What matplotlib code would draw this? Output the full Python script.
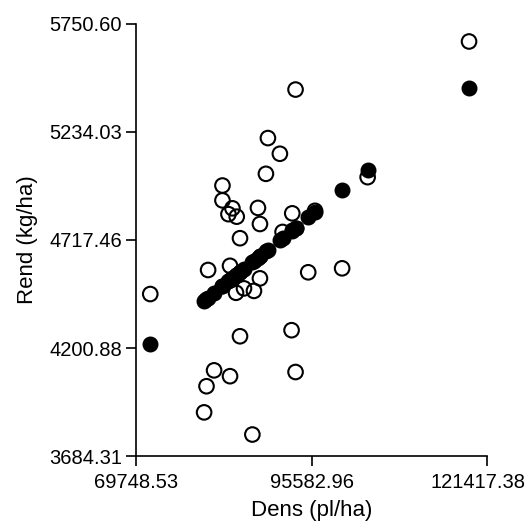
import matplotlib
matplotlib.use("Agg")
import matplotlib.pyplot as plt
import matplotlib.transforms as mtransforms

plt.rcParams['font.family'] = ['Liberation Sans', 'DejaVu Sans']

# Density (pl/ha) of each observation
dens = [118775, 93234, 89168, 90930, 88874, 103847, 82475, 82475, 83943, 83356,
        84574, 87700, 87994, 92750, 85058, 91326, 80361, 83590, 87994, 85646,
        84471, 87113, 95099, 100089, 71848, 85058, 92647, 81242, 83590, 80126,
        93234, 79774, 86878, 96100]
# Observed yield (kg/ha)
rend_obs = [5667, 5437, 5205, 5130, 5034, 5018, 4978, 4907, 4869, 4841,
            4829, 4871, 4794, 4845, 4726, 4756, 4574, 4594, 4534, 4486,
            4465, 4474, 4563, 4582, 4459, 4257, 4286, 4094, 4066, 4018,
            4086, 3893, 3787, 4857]
# Fitted yield (kg/ha)
rend_fit = [5444, 4777, 4671, 4717, 4663, 5054, 4496, 4496, 4535, 4519,
            4551, 4633, 4640, 4764, 4564, 4727, 4441, 4525, 4640, 4579,
            4548, 4617, 4826, 4956, 4219, 4564, 4762, 4464, 4525, 4435,
            4777, 4426, 4611, 4852]

xticks = [69748.53, 95582.96, 121417.38]
yticks = [3684.31, 4200.88, 4717.46, 5234.03, 5750.60]
xtick_labels = ["69748.53", "95582.96", "121417.38"]
ytick_labels = ["3684.31", "4200.88", "4717.46", "5234.03", "5750.60"]

fig = plt.figure(figsize=(5.3, 5.3), dpi=100)
ax = fig.add_axes([136/530, 1 - 456/530, (487 - 136)/530, (456 - 24)/530])

ax.scatter(dens, rend_obs, s=110, facecolors='none', edgecolors='black',
           linewidths=1.5, clip_on=False, zorder=2)
ax.scatter(dens, rend_fit, s=110, facecolors='black', edgecolors='black',
           linewidths=1.0, clip_on=False, zorder=3)

ax.set_xlim(xticks[0], xticks[-1])
ax.set_ylim(yticks[0], yticks[-1])
ax.set_xticks(xticks)
ax.set_xticklabels(xtick_labels)
ax.set_yticks(yticks)
ax.set_yticklabels(ytick_labels)

for s in ['top', 'right']:
    ax.spines[s].set_visible(False)
for s in ['left', 'bottom']:
    ax.spines[s].set_linewidth(1.2)
    ax.spines[s].set_color('black')

ax.tick_params(axis='both', length=7, width=1.2, labelsize=14.5, colors='black', pad=3)
ax.tick_params(axis='x', pad=5)

# keep the last x tick label inside the figure
last = ax.get_xticklabels()[-1]
last.set_transform(last.get_transform() + mtransforms.ScaledTranslation(-0.09, 0, fig.dpi_scale_trans))

ax.set_xlabel("Dens (pl/ha)", fontsize=16, labelpad=6)
ax.set_ylabel("Rend (kg/ha)", fontsize=16, labelpad=8)

fig.savefig("out.png", dpi=100)
